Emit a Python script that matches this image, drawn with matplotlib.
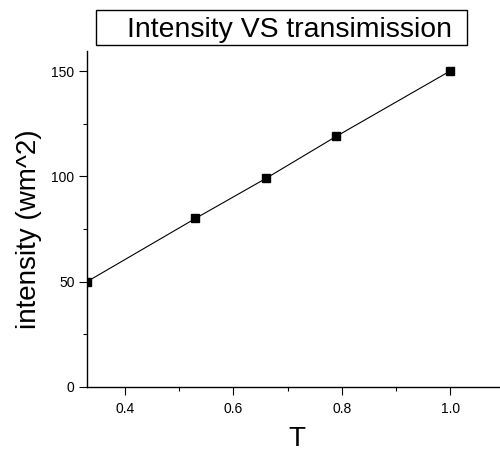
import matplotlib
matplotlib.use("Agg")
import matplotlib.pyplot as plt
from matplotlib.patches import Rectangle
from matplotlib.ticker import MultipleLocator

T = [0.33, 0.53, 0.66, 0.79, 1.0]
intensity = [50, 80, 99, 119, 150]
title = "Intensity VS transimission"
xlabel = "T"
ylabel = "intensity (wm^2)"

plt.rcParams['font.family'] = ['Liberation Sans', 'DejaVu Sans']

fig = plt.figure(figsize=(5, 4.53), dpi=100)
ax = fig.add_axes([87/500, 1 - 387/453, 413/500, 336/453])

ax.plot(T, intensity, color='black', lw=0.8, marker='s', markersize=5.5,
        markerfacecolor='black', markeredgecolor='black')

ax.set_xlim(0.33, 1.092)
ax.set_ylim(0, 159.5)
ax.set_xticks([0.4, 0.6, 0.8, 1.0])
ax.set_xticklabels(['0.4', '0.6', '0.8', '1.0'])
ax.xaxis.set_minor_locator(MultipleLocator(0.1))
ax.yaxis.set_major_locator(MultipleLocator(50))
ax.yaxis.set_minor_locator(MultipleLocator(25))

for s in ['top', 'right']:
    ax.spines[s].set_visible(False)
for s in ['left', 'bottom']:
    ax.spines[s].set_linewidth(1.0)

ax.tick_params(which='major', direction='out', length=6, width=0.8, labelsize=10)
ax.tick_params(axis='x', which='major', pad=4.5)
ax.tick_params(axis='y', which='major', pad=3)
ax.tick_params(which='minor', direction='out', length=3, width=0.8)

ax.set_xlabel(xlabel, fontsize=20)
ax.set_ylabel(ylabel, fontsize=20)
ax.xaxis.set_label_coords(0.508, -0.115)
ax.yaxis.set_label_coords(-0.11, 0.47)

# title box
W, H = 500, 453
fig.patches.append(Rectangle((95.7/W, 1 - 45/H), (467 - 95.7)/W, 35/H,
                             transform=fig.transFigure, fill=False,
                             edgecolor='black', lw=1.0))
fig.text(127/W, 1 - 37/H, title, fontsize=20.4, ha='left', va='baseline')

fig.savefig('out.png', dpi=100)
